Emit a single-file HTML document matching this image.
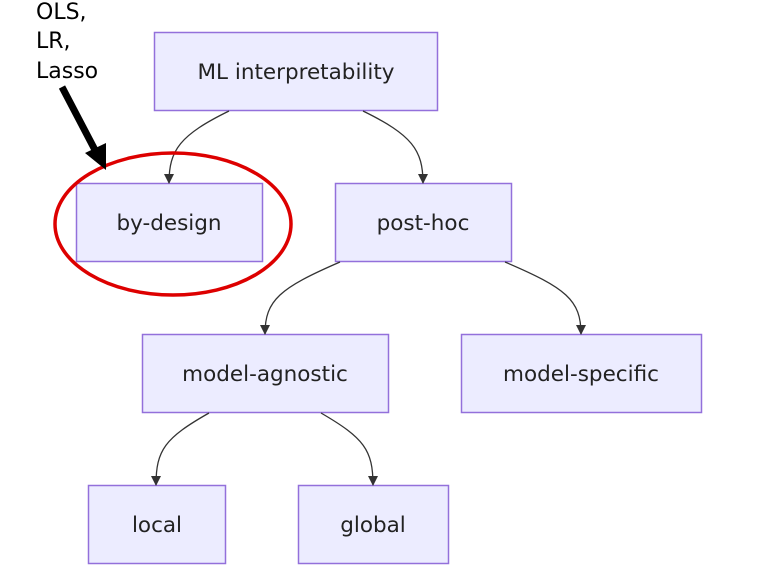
<!DOCTYPE html>
<html><head><style>body{margin:0;background:#fff}svg{display:block}</style></head><body>
<svg width="777" height="576" viewBox="0 0 777 576" xmlns="http://www.w3.org/2000/svg">
<defs><marker id="a" markerWidth="10" markerHeight="10" refX="9" refY="5" orient="auto" markerUnits="userSpaceOnUse"><path d="M0,0 L10,5 L0,10 z" fill="#333"/></marker></defs>
<g fill="#ececff" stroke="#9370db" stroke-width="1.5">
<rect x="154.5" y="32.5" width="283" height="78"/>
<rect x="76.5" y="183.5" width="186" height="78"/>
<rect x="335.5" y="183.5" width="176" height="78"/>
<rect x="142.5" y="334.5" width="246" height="78"/>
<rect x="461.5" y="334.5" width="240" height="78"/>
<rect x="88.5" y="485.5" width="137" height="78"/>
<rect x="298.5" y="485.5" width="150" height="78"/>
</g>
<g fill="none" stroke="#333" stroke-width="1.3" marker-end="url(#a)">
<path d="M229,111 C180,135 169,150 169,183"/>
<path d="M363,111 C412,135 423,150 423,183"/>
<path d="M340,262 C280,288 265,300 265,334"/>
<path d="M505,262 C566,288 581,300 581,334"/>
<path d="M209,413 C165,438 156,450 156,485"/>
<path d="M321,413 C364,438 373,450 373,485"/>
</g>
<g font-family="'DejaVu Sans',sans-serif" font-size="21.5" fill="#222" text-anchor="middle">
<text x="296" y="79">ML interpretability</text>
<text x="169" y="230">by-design</text>
<text x="423" y="230">post-hoc</text>
<text x="265" y="381">model-agnostic</text>
<text x="581" y="381">model-specific</text>
<text x="157" y="532">local</text>
<text x="373" y="532">global</text>
</g>
<ellipse cx="173" cy="224" rx="118" ry="71" fill="none" stroke="#d00" stroke-width="3.5"/>
<line x1="62" y1="87" x2="95" y2="150" stroke="#000" stroke-width="7"/>
<path d="M85,153 L106,143 L106,170 z" fill="#000"/>
<g font-family="'DejaVu Sans',sans-serif" font-size="22" fill="#000">
<text x="36" y="19">OLS,</text>
<text x="36" y="48">LR,</text>
<text x="36" y="78">Lasso</text>
</g>
</svg>
</body></html>
